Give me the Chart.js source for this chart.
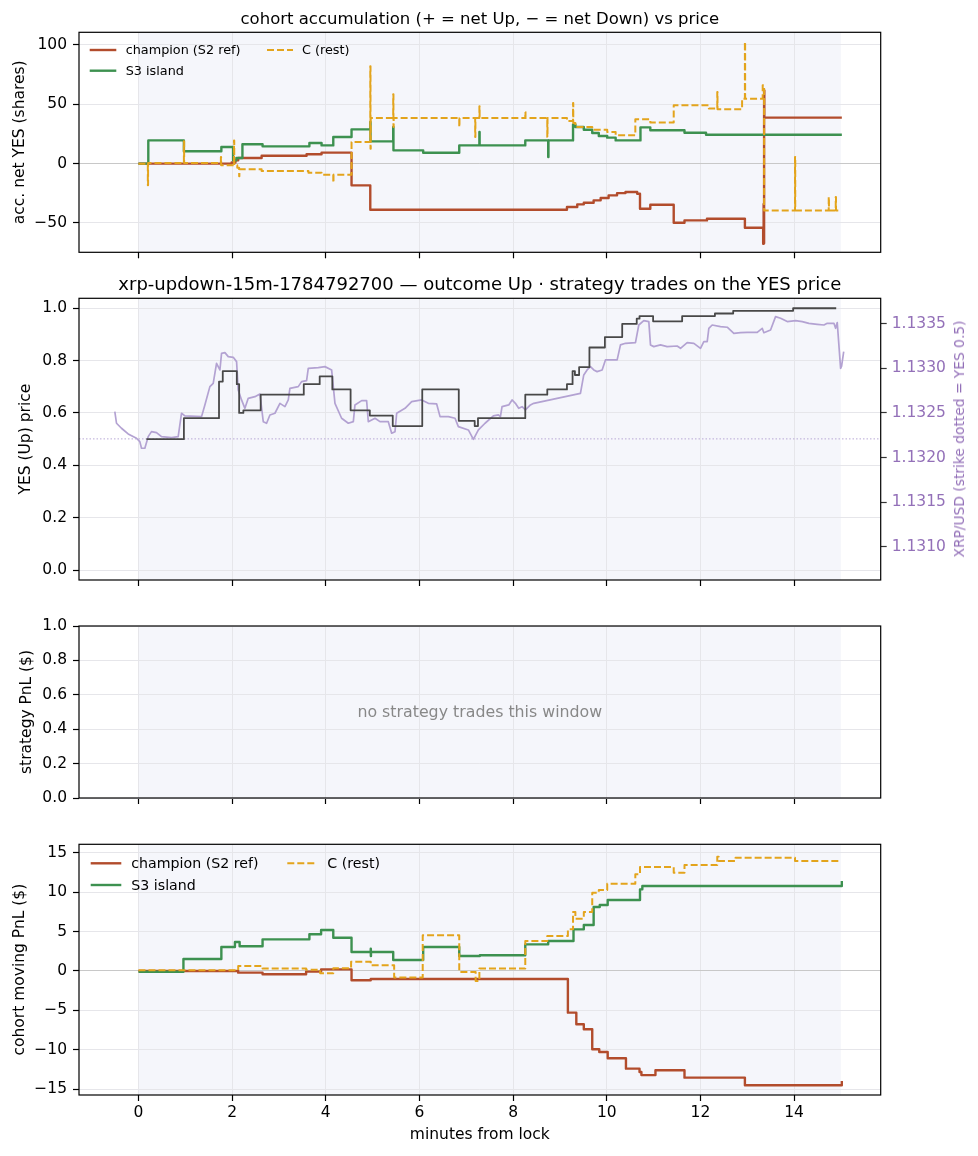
<!DOCTYPE html>
<html><head><meta charset="utf-8">
<script src="https://cdn.jsdelivr.net/npm/chart.js@4.4.1/dist/chart.umd.min.js"></script>
<style>
body{margin:0;background:#fff;width:978px;height:1156px;position:relative;overflow:hidden;font-family:"DejaVu Sans",sans-serif;}
.box{position:absolute;left:0;width:978px;}
.t{position:absolute;white-space:nowrap;color:#000;}
.c{transform:translate(-50%,-50%);}
svg.s{position:absolute;overflow:visible;}
</style></head><body>
<div class="box" style="top:0;height:275px"><canvas id="c1"></canvas></div>
<div class="box" style="top:275px;height:330px"><canvas id="c2"></canvas></div>
<div class="box" style="top:605px;height:215px"><canvas id="c3"></canvas></div>
<div class="box" style="top:820px;height:336px"><canvas id="c4"></canvas></div>

<div class="t c" style="left:479.8px;top:17.5px;font-size:16.5px">cohort accumulation (+ = net Up, − = net Down) vs price</div>
<div class="t c" style="left:479.8px;top:283px;font-size:18px">xrp-updown-15m-1784792700 — outcome Up · strategy trades on the YES price</div>
<div class="t c" style="left:479.8px;top:711px;font-size:15.8px;color:#888">no strategy trades this window</div>
<div class="t c" style="left:958.5px;top:439.2px;font-size:13.8px;color:#9370b8;transform:translate(-50%,-50%) rotate(-90deg)">XRP/USD (strike dotted = YES 0.5)</div>

<!-- legends -->
<svg class="s" style="left:0;top:0" width="1" height="1">
  <line x1="89.7" y1="50" x2="116.3" y2="50" stroke="#b24c2c" stroke-width="2.4"/>
  <line x1="89.7" y1="70.7" x2="116.3" y2="70.7" stroke="#3d9150" stroke-width="2.4"/>
  <line x1="267" y1="50" x2="293" y2="50" stroke="#e3a41c" stroke-width="2" stroke-dasharray="7 3"/>
  <line x1="90.7" y1="863.3" x2="121.3" y2="863.3" stroke="#b24c2c" stroke-width="2.4"/>
  <line x1="90.7" y1="885" x2="121.3" y2="885" stroke="#3d9150" stroke-width="2.4"/>
  <line x1="287.3" y1="863.3" x2="314.7" y2="863.3" stroke="#e3a41c" stroke-width="2" stroke-dasharray="7 3"/>
</svg>
<div class="t" style="left:125.7px;top:42px;font-size:12.8px;line-height:16px">champion (S2 ref)</div>
<div class="t" style="left:125.7px;top:62.7px;font-size:12.8px;line-height:16px">S3 island</div>
<div class="t" style="left:302px;top:42px;font-size:12.8px;line-height:16px">C (rest)</div>
<div class="t" style="left:131.3px;top:854.3px;font-size:14.2px;line-height:18px">champion (S2 ref)</div>
<div class="t" style="left:131.3px;top:876px;font-size:14.2px;line-height:18px">S3 island</div>
<div class="t" style="left:327.3px;top:854.3px;font-size:14.2px;line-height:18px">C (rest)</div>

<script>
// ---------------- data ----------------
const xTicks = [0, 2, 4, 6, 8, 10, 12, 14];
const accTicks = [100, 50, 0, -50];
const probTicks = [0, 0.2, 0.4, 0.6, 0.8, 1.0];
const priceTicks = [1.1310, 1.1315, 1.1320, 1.1325, 1.1330, 1.1335];
const stratTicks = [0, 0.2, 0.4, 0.6, 0.8, 1.0];
const pnlTicks = [15, 10, 5, 0, -5, -10, -15];

const shadeStart = 0, shadeEnd = 15;
const strikePrice = 1.13221;

// accumulated net YES shares [minute, shares]
const accChampion = [[0,0],[1.99,1.0],[2.07,2.8],[2.13,4.8],[2.63,6.7],[3.59,7.9],[3.91,9.3],[4.55,-18.3],[4.95,-38.8],
  [9.15,-36.5],[9.37,-34.3],[9.51,-32.9],[9.72,-30.9],[9.87,-29.0],[10.04,-26.7],[10.22,-24.8],[10.40,-23.9],[10.65,-25.3],
  [10.71,-38.0],[10.93,-34.6],[11.43,-49.8],[11.66,-47.8],[12.14,-46.4],[12.95,-54.0],[13.34,-67.5],[13.35,-34.0],
  [13.355,-67.0],[13.36,61.8],[13.365,38.8],[15.02,38.8]];
const accS3 = [[0,0],[0.21,19.6],[0.97,10.4],[1.77,14.0],[2.02,2.8],[2.09,4.8],[2.22,16.3],[2.65,14.6],[3.65,17.4],
  [3.91,15.4],[4.16,22.5],[4.55,28.9],[4.95,35.1],[4.955,18.8],[5.44,30.9],[5.445,11.2],[6.08,9.2],[6.85,15.4],
  [7.28,26.7],[7.285,15.4],[8.26,19.6],[8.75,5.6],[8.755,19.6],[9.28,33.1],[9.33,30.9],[9.51,28.6],[9.69,25.8],
  [9.83,23.3],[10.01,21.9],[10.19,19.6],[10.72,30.6],[10.93,28.1],[11.66,26.1],[12.12,24.4],[15.02,24.4]];
const accRest = [[0,0],[0.20,-18.3],[0.205,0.5],[0.97,18.8],[0.975,0.5],[1.76,5.6],[1.765,-1.4],[2.04,19.6],[2.045,-1.4],
  [2.11,-3.4],[2.15,-10.7],[2.155,-4.7],[2.63,-6.2],[3.63,-7.6],[3.91,-9.3],[4.16,-16.0],[4.165,-9.3],[4.55,18.3],
  [4.95,82.0],[4.955,12.6],[4.96,38.5],[5.44,58.4],[5.445,30.9],[5.45,38.5],[6.85,30.9],[6.855,38.5],[7.19,22.5],
  [7.195,38.5],[7.28,48.3],[7.285,38.5],[8.26,43.5],[8.265,38.5],[8.73,22.5],[8.735,38.5],[9.15,35.9],[9.28,51.1],
  [9.285,34.3],[9.33,30.9],[9.69,28.6],[10.01,26.7],[10.19,23.9],[10.61,37.4],[10.93,34.6],[11.43,49.2],[12.18,46.4],
  [12.36,60.4],[12.365,45.8],[12.89,54.8],[12.95,102.6],[12.955,54.8],[13.33,66.0],[13.36,-39.4],[14.02,5.6],
  [14.025,-39.4],[14.74,-28.1],[14.745,-39.4],[14.89,-28.1],[14.895,-39.4],[14.98,-39.4]];

// YES (Up) price [minute, price]
const yesPrice = [[0.17,0.50],[0.97,0.58],[1.72,0.72],[1.80,0.76],[2.10,0.71],[2.15,0.60],[2.24,0.61],[2.61,0.67],
  [3.53,0.71],[3.87,0.74],[4.14,0.69],[4.53,0.61],[4.94,0.59],[5.43,0.55],[6.06,0.69],[6.84,0.57],[7.18,0.55],
  [7.25,0.58],[8.26,0.67],[8.73,0.69],[9.15,0.71],[9.27,0.76],[9.32,0.745],[9.41,0.775],[9.63,0.85],[9.96,0.89],
  [10.33,0.94],[10.64,0.96],[10.70,0.97],[10.99,0.95],[11.61,0.97],[12.31,0.98],[12.70,0.99],[13.98,1.00],[14.90,1.00]];

// XRP/USD [minute, price]
const xrpPrice = [[-0.505,1.132515],[-0.469,1.132385],[-0.363,1.132329],[-0.22,1.132265],[-0.042,1.132217],
  [0.029,1.132179],[0.065,1.132105],[0.136,1.132105],[0.207,1.132235],[0.278,1.132291],[0.385,1.13228],
  [0.492,1.132235],[0.706,1.132224],[0.848,1.132235],[0.919,1.132497],[0.991,1.132467],[1.347,1.132459],
  [1.418,1.13259],[1.525,1.132795],[1.596,1.132832],[1.667,1.133056],[1.739,1.132982],[1.774,1.133168],
  [1.846,1.133176],[1.917,1.133131],[2.024,1.133123],[2.095,1.133075],[2.13,1.132758],[2.201,1.132646],
  [2.273,1.132552],[2.344,1.132664],[2.487,1.132683],[2.593,1.132713],[2.665,1.132403],[2.736,1.132385],
  [2.807,1.132478],[2.914,1.132497],[3.021,1.132608],[3.128,1.132571],[3.199,1.132646],[3.234,1.132776],
  [3.412,1.132795],[3.484,1.132851],[3.59,1.132862],[3.626,1.133],[3.84,1.133007],[3.982,1.133019],
  [4.125,1.132982],[4.196,1.132608],[4.338,1.132441],[4.481,1.132385],[4.588,1.132403],[4.623,1.13259],
  [4.766,1.132638],[4.872,1.132638],[4.908,1.132403],[5.051,1.132441],[5.157,1.132403],[5.335,1.132403],
  [5.407,1.132273],[5.478,1.132291],[5.514,1.132497],[5.692,1.132552],[5.834,1.132627],[6.048,1.132646],
  [6.19,1.132608],[6.368,1.132601],[6.44,1.132459],[6.618,1.132459],[6.76,1.132441],[6.831,1.132347],
  [7.045,1.13231],[7.152,1.132205],[7.259,1.13231],[7.401,1.132385],[7.579,1.132467],[7.686,1.132478],
  [7.729,1.132459],[7.764,1.132571],[7.907,1.13259],[7.978,1.132646],[8.049,1.132608],[8.12,1.132552],
  [8.192,1.132571],[8.263,1.132534],[8.37,1.13259],[8.441,1.132608],[9.438,1.13272],[9.509,1.132926],
  [9.58,1.132982],[9.652,1.133019],[9.723,1.132982],[9.794,1.132963],[9.901,1.132982],[9.972,1.133094],
  [10.222,1.133094],[10.293,1.133262],[10.4,1.13328],[10.613,1.133287],[10.684,1.133485],[10.791,1.133534],
  [10.898,1.133523],[10.934,1.133262],[11.005,1.133243],[11.147,1.133262],[11.29,1.133243],[11.503,1.13325],
  [11.575,1.133224],[11.717,1.133287],[11.86,1.13328],[12.002,1.133224],[12.073,1.133299],[12.145,1.133299],
  [12.18,1.133448],[12.251,1.133485],[12.429,1.133467],[12.572,1.13346],[12.714,1.133392],[12.857,1.133399],
  [12.999,1.133403],[13.213,1.133403],[13.32,1.133448],[13.355,1.133399],[13.498,1.133429],[13.605,1.133579],
  [13.712,1.13356],[13.854,1.133523],[14.032,1.133534],[14.175,1.133523],[14.317,1.133504],[14.495,1.133493],
  [14.638,1.133485],[14.709,1.133504],[14.851,1.133504],[14.887,1.133448],[14.922,1.133512],[14.994,1.133],
  [15.015,1.133025],[15.06,1.133187]];

// cohort moving PnL [minute, $]
const pnlChampion = [[0,0],[2.13,-0.21],[2.65,-0.42],[3.58,-0.08],[3.90,0.21],[4.55,-1.18],[4.96,-1.01],[9.17,-5.28],
  [9.35,-6.76],[9.51,-7.39],[9.69,-9.92],[9.84,-10.27],[10.02,-11.07],[10.41,-12.38],[10.70,-12.8],[10.74,-13.2],
  [11.04,-12.59],[11.66,-13.52],[12.95,-14.49],[15.02,-13.94]];
const pnlS3 = [[0,-0.1],[0.96,1.52],[1.77,3.04],[2.06,3.68],[2.16,3.13],[2.65,4.01],[3.65,4.65],[3.90,5.2],[4.16,4.22],
  [4.55,2.41],[4.96,2.83],[4.962,1.9],[4.965,2.41],[5.44,1.39],[6.08,3.04],[6.85,1.90],[7.29,1.99],[8.26,3.38],
  [8.75,3.80],[9.29,5.28],[9.51,5.83],[9.72,8.11],[9.85,8.36],[10.02,9.0],[10.71,10.35],[10.76,10.77],[15.02,11.4]];
const pnlRest = [[0,0.1],[2.13,0.63],[2.65,0.3],[3.58,0.17],[3.88,-0.3],[4.16,0.34],[4.54,1.18],[4.96,0.72],
  [5.46,-0.84],[6.07,4.52],[6.85,-0.13],[7.20,-1.27],[7.28,0.3],[8.26,3.8],[8.73,4.44],[9.17,5.28],[9.28,7.48],
  [9.33,6.63],[9.51,7.48],[9.69,9.92],[9.83,10.27],[10.01,11.07],[10.61,12.25],[10.71,13.18],[11.43,12.46],
  [11.66,13.43],[12.36,14.49],[12.39,13.94],[12.75,14.36],[14.02,13.94],[15.0,13.94]];

// ---------------- style ----------------
const C_CHAMP = '#b24c2c', C_S3 = '#3d9150', C_REST = '#e3a41c';
const C_YES = '#484848', C_XRP = '#b3a2d2', PURPLE = '#9370b8';
const GRID = '#e6e6ea', ZERO = '#c8c8c8', SHADE = '#f5f6fb';
const X_MIN = -1.27, X_MAX = 15.85;
const FS = 15.5;

Chart.defaults.font.family = '"DejaVu Sans", sans-serif';
Chart.defaults.color = '#000';
Chart.defaults.animation = false;

const pairs = a => a.map(([x, y]) => ({x, y}));
const minus = v => (v < 0 ? '\u2212' + Math.abs(v) : String(v));

const framePlugin = {
  id: 'frame',
  beforeDraw(chart) {
    const {ctx, chartArea: a, scales: {x}} = chart;
    const x0 = x.getPixelForValue(shadeStart), x1 = x.getPixelForValue(shadeEnd);
    ctx.save();
    ctx.fillStyle = SHADE;
    ctx.fillRect(x0, a.top, x1 - x0, a.bottom - a.top);
    ctx.restore();
  },
  afterDraw(chart) {
    const {ctx, chartArea: a} = chart;
    ctx.save();
    ctx.strokeStyle = '#000';
    ctx.lineWidth = 1.2;
    ctx.strokeRect(a.left, a.top, a.right - a.left, a.bottom - a.top);
    ctx.restore();
  }
};

const strikePlugin = {
  id: 'strike',
  beforeDatasetsDraw(chart) {
    const {ctx, chartArea: a, scales: {y2}} = chart;
    const yy = y2.getPixelForValue(strikePrice);
    ctx.save();
    ctx.strokeStyle = '#b8a8d6';
    ctx.lineWidth = 1;
    ctx.setLineDash([1.5, 2]);
    ctx.beginPath(); ctx.moveTo(a.left, yy); ctx.lineTo(a.right, yy); ctx.stroke();
    ctx.restore();
  }
};

function makeX(showLabels, height, title) {
  return {
    type: 'linear', min: X_MIN, max: X_MAX,
    afterBuildTicks: s => { s.ticks = xTicks.map(v => ({value: v})); },
    afterFit: s => { s.height = height; },
    grid: {color: GRID, lineWidth: 1, drawTicks: true, tickLength: 6, tickColor: '#000', tickWidth: 1.2},
    border: {display: false},
    ticks: {display: showLabels, autoSkip: false, maxRotation: 0, font: {size: FS}, color: '#000', padding: 2.5,
            callback: v => minus(v)},
    title: title ? {display: true, text: title, font: {size: FS}, color: '#000', padding: {top: 0, bottom: 11.7}}
                 : {display: false}
  };
}

function makeY(min, max, ticks, fmt, title, titlePad, zeroLine) {
  return {
    type: 'linear', position: 'left', min, max,
    afterBuildTicks: s => { s.ticks = ticks.map(v => ({value: v})); },
    afterFit: s => { s.width = 79; },
    grid: {
      color: c => (zeroLine && c.tick && c.tick.value === 0) ? ZERO : GRID,
      lineWidth: 1, drawTicks: true, tickLength: 6, tickColor: '#000', tickWidth: 1.2
    },
    border: {display: false},
    ticks: {autoSkip: false, font: {size: FS}, color: '#000', padding: 6, callback: fmt},
    title: {display: true, text: title, font: {size: FS}, color: '#000', padding: {top: titlePad, bottom: 0}}
  };
}

function baseOptions(pad, scales) {
  return {
    responsive: true, maintainAspectRatio: false, animation: false, events: [],
    layout: {padding: pad},
    plugins: {legend: {display: false}, tooltip: {enabled: false}, title: {display: false}},
    elements: {point: {radius: 0}, line: {tension: 0, borderJoinStyle: 'round', borderCapStyle: 'butt'}},
    scales
  };
}

const stepLine = (d, color, w, order, dash) => ({
  data: pairs(d), borderColor: color, backgroundColor: color, borderWidth: w, stepped: true,
  fill: false, order, borderDash: dash || []
});

// Panel 1
new Chart(document.getElementById('c1'), {
  type: 'line',
  data: {datasets: [
    stepLine(accChampion, C_CHAMP, 2.4, 3),
    stepLine(accS3, C_S3, 2.4, 2),
    stepLine(accRest, C_REST, 2.0, 1, [7, 3])
  ]},
  options: baseOptions({top: 32.3, left: 0, right: 97.3, bottom: 0}, {
    x: makeX(false, 22.7),
    y: makeY(-74.7, 110.7, accTicks, v => minus(v), 'acc. net YES (shares)', 10.2, true)
  }),
  plugins: [framePlugin]
});

// Panel 2
new Chart(document.getElementById('c2'), {
  type: 'line',
  data: {datasets: [
    {data: pairs(yesPrice), yAxisID: 'y', borderColor: C_YES, borderWidth: 1.8, stepped: true, fill: false, order: 1},
    {data: pairs(xrpPrice), yAxisID: 'y2', borderColor: C_XRP, borderWidth: 1.7, fill: false, order: 2}
  ]},
  options: baseOptions({top: 23.3, left: 0, right: 0, bottom: 0}, {
    x: makeX(false, 25),
    y: makeY(-0.038, 1.038, probTicks, v => v.toFixed(1), 'YES (Up) price', 16.7, false),
    y2: {
      type: 'linear', position: 'right', min: 1.13063, max: 1.133784,
      afterBuildTicks: s => { s.ticks = priceTicks.map(v => ({value: v})); },
      afterFit: s => { s.width = 97.3; },
      grid: {drawOnChartArea: false, drawTicks: true, tickLength: 6, tickColor: '#333', tickWidth: 1.2},
      border: {display: false},
      ticks: {autoSkip: false, font: {size: FS}, color: PURPLE, padding: 5, callback: v => v.toFixed(4)},
      title: {display: false}
    }
  }),
  plugins: [framePlugin, strikePlugin]
});

// Panel 3
new Chart(document.getElementById('c3'), {
  type: 'line',
  data: {datasets: [{data: [], borderColor: C_YES}]},
  options: baseOptions({top: 21, left: 0, right: 97.3, bottom: 0}, {
    x: makeX(false, 22),
    y: makeY(0, 1, stratTicks, v => v.toFixed(1), 'strategy PnL ($)', 17.4, false)
  }),
  plugins: [framePlugin]
});

// Panel 4
new Chart(document.getElementById('c4'), {
  type: 'line',
  data: {datasets: [
    stepLine(pnlChampion, C_CHAMP, 2.4, 3),
    stepLine(pnlS3, C_S3, 2.4, 2),
    stepLine(pnlRest, C_REST, 2.0, 1, [7, 3])
  ]},
  options: baseOptions({top: 24.3, left: 0, right: 97.3, bottom: 0}, {
    x: makeX(true, 61, 'minutes from lock'),
    y: makeY(-15.72, 16.06, pnlTicks, v => minus(v), 'cohort moving PnL ($)', 10.2, true)
  }),
  plugins: [framePlugin]
});
</script>
</body></html>
